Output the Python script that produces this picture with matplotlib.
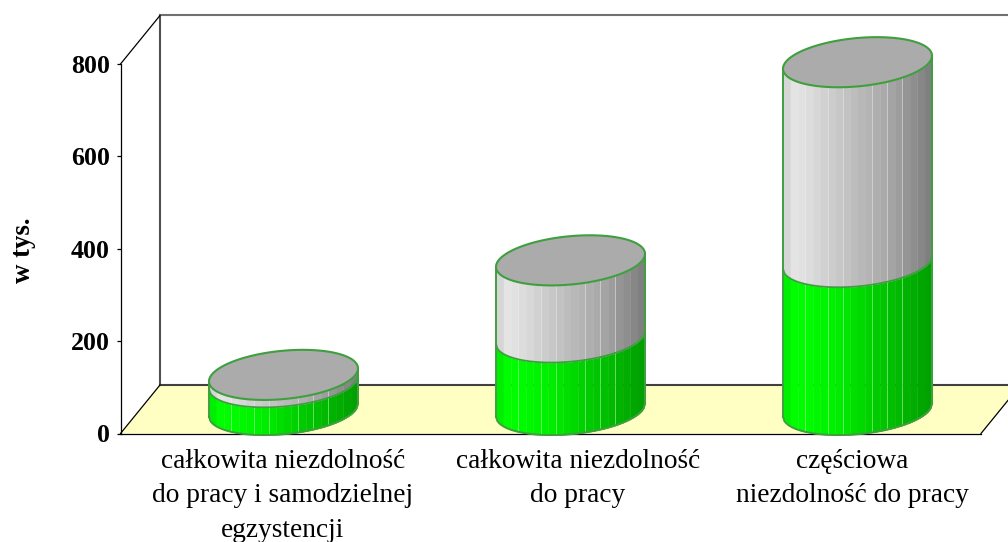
import numpy as np
import matplotlib
matplotlib.use("Agg")
import matplotlib.pyplot as plt
from matplotlib.colors import LinearSegmentedColormap

categories = ["całkowita niezdolność\ndo pracy i samodzielnej\negzystencji",
              "całkowita niezdolność\ndo pracy",
              "częściowa\nniezdolność do pracy"]
green_values = [60, 157, 320]
total_values = [76, 324, 753]
y_ticks = [0, 200, 400, 600, 800]
y_label = "w tys."

W, H = 1008, 542
X0, X1, Y0, Y1 = 120.5, 981, 433.5, 64   # front-plane frame in pixels
plt.rcParams["font.family"] = ["Liberation Serif", "DejaVu Serif"]

fig = plt.figure(figsize=(W / 100, H / 100), dpi=100, facecolor="white")
ax = fig.add_axes([X0 / W, 1 - Y0 / H, (X1 - X0) / W, (Y0 - Y1) / H])
ax.patch.set_alpha(0)

PX_X = 287.0
PX_Y = (Y0 - Y1) / 800.0
CX0 = 283.5
ax.set_xlim((X0 - CX0) / PX_X, (X1 - CX0) / PX_X)
ax.set_ylim(0, 800)

DX = 39.5 / PX_X      # depth of the box
DY = 48.5 / PX_Y
RAD = 74.5 / PX_X     # cylinder half width
MID = 23.5 / PX_Y     # ellipse centre above the front plane
B = 24.2 / PX_Y       # ellipse vertical half axis
S = 6.5 / PX_Y        # ellipse shear
xl, xr = ax.get_xlim()
EDGE = "#3f9f3f"

# walls and floor
ax.fill([xl, xl + DX, xr + DX, xr], [0, DY, DY, 0], color="#FFFFC4", lw=0, zorder=1, clip_on=False)
ax.plot([xl + DX, xl + DX], [DY, 800 + DY], color="#505050", lw=1.5, zorder=2, clip_on=False)
ax.plot([xl + DX, xr + DX], [800 + DY, 800 + DY], color="#707070", lw=1.5, zorder=2, clip_on=False)
ax.plot([xl + DX, xr + DX], [DY, DY], color="#404040", lw=1.5, zorder=2, clip_on=False)
ax.plot([xl, xl + DX], [800, 800 + DY], color="black", lw=0.9, zorder=2, clip_on=False)
ax.plot([xl, xl + DX], [0, DY], color="black", lw=0.9, zorder=2, clip_on=False)
ax.plot([xr, xr + DX], [0, DY], color="black", lw=0.9, zorder=2, clip_on=False)

green_map = LinearSegmentedColormap.from_list(
    "g", [(0, "#00E800"), (0.08, "#00FF00"), (0.35, "#00F000"), (0.65, "#00C800"), (1, "#009E00")])
gray_map = LinearSegmentedColormap.from_list(
    "k", [(0, "#D0D0D0"), (0.08, "#E6E6E6"), (0.4, "#C4C4C4"), (0.7, "#A8A8A8"), (1, "#7C7C7C")])
NF = 20
LIGHT = {3, 6, 8, 12, 14, 16}


def lower(x, cx, vc):
    """Front arc of the tilted ellipse, value vc at ellipse centre."""
    c = np.clip((x - cx) / RAD, -1, 1)
    s = np.sqrt(1 - c ** 2)
    return vc - B * s + S * c


def side(cx, v0, v1, cmap, light, z):
    edges = np.linspace(cx - RAD, cx + RAD, NF + 1)
    for i in range(NF):
        xs = np.linspace(edges[i], edges[i + 1], 6)
        ax.fill_between(xs, lower(xs, cx, v0), lower(xs, cx, v1),
                        color=cmap((i + 0.5) / NF), lw=0.25, zorder=z, clip_on=False)
        if i in LIGHT:
            ax.plot([edges[i]] * 2, [lower(edges[i], cx, v0), lower(edges[i], cx, v1)],
                    color=light, lw=0.7, alpha=0.45, zorder=z + 0.1, clip_on=False)


for i, (g, t) in enumerate(zip(green_values, total_values)):
    base = MID
    vg, vt = g + MID, t + MID
    side(i, base, vg, green_map, "#C8FFC8", 3)
    side(i, vg, vt, gray_map, "#F0F0F0", 3)
    xs = np.linspace(i - RAD, i + RAD, 120)
    ax.plot(xs, lower(xs, i, base), color=EDGE, lw=1.4, zorder=4, clip_on=False)
    ax.plot(xs, lower(xs, i, vg), color=EDGE, lw=1.3, zorder=4, clip_on=False)
    for sgn in (-1, 1):
        xe = i + sgn * RAD
        ax.plot([xe, xe], [lower(xe, i, base), lower(xe, i, vt)], color=EDGE, lw=1.4, zorder=4, clip_on=False)
    t_ang = np.linspace(0, 2 * np.pi, 200)
    ex = i + RAD * np.cos(t_ang)
    ey = vt + B * np.sin(t_ang) + S * np.cos(t_ang)
    ax.fill(ex, ey, facecolor="#ABABAB", edgecolor=EDGE, lw=1.5, zorder=5, clip_on=False)

# axes
for name in ("top", "right"):
    ax.spines[name].set_visible(False)
ax.spines["left"].set_linewidth(0.9)
ax.spines["bottom"].set_linewidth(0.9)
ax.spines["left"].set_zorder(2)
ax.spines["bottom"].set_zorder(2)
ax.set_yticks(y_ticks)
ax.set_xticks([])
ax.tick_params(axis="y", length=3.2, width=0.9, pad=4.5, labelsize=18.6)
for lb in ax.get_yticklabels():
    lb.set_fontweight("bold")

fig.text(24 / W, 1 - 250 / H, y_label, rotation=90, fontsize=19.4, fontweight="bold",
         ha="center", va="center")

label_px = [283, 578, 852]
for name, px in zip(categories, label_px):
    fig.text(px / W, 1 - 449 / H, name, ha="center", va="top", fontsize=19.7,
             linespacing=1.49)

fig.savefig("out.png", dpi=100)
